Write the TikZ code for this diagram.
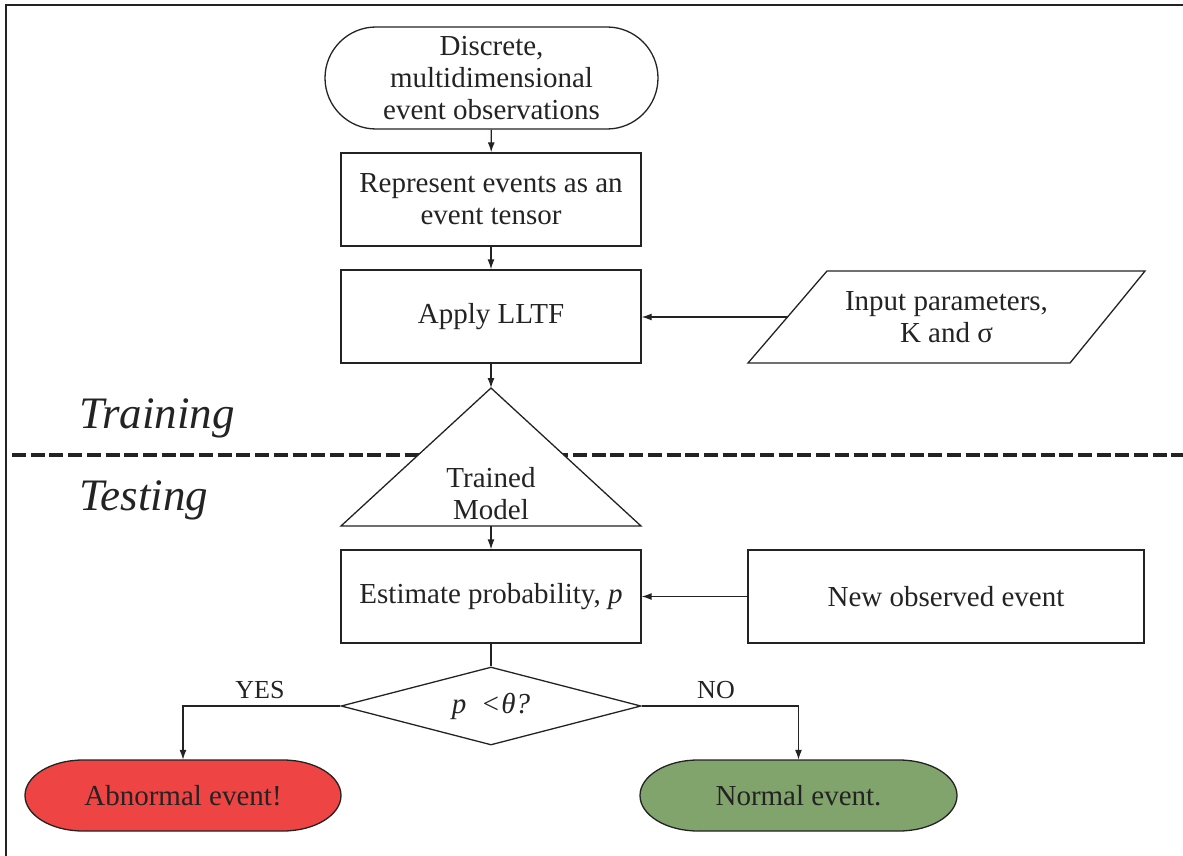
\documentclass[tikz,border=0pt]{standalone}
\usepackage{fontspec}
\setmainfont{Liberation Serif}
\usetikzlibrary{shapes.geometric, shapes.misc, arrows.meta, positioning, calc}
\definecolor{inkgray}{RGB}{35,35,35}
\definecolor{abnred}{RGB}{239,68,68}
\definecolor{normgreen}{RGB}{129,163,108}

\begin{document}
\begin{tikzpicture}[x=1pt, y=-1pt,
  every node/.style={text=inkgray, font=\fontsize{29}{32}\selectfont},
  box/.style={draw=inkgray, line width=1.3pt, minimum width=300pt, minimum height=93pt, align=center, inner sep=0pt},
  term/.style={draw=inkgray, line width=1.3pt, rounded rectangle, minimum width=333pt, minimum height=102pt, align=center, inner sep=0pt},
  link/.style={draw=inkgray, line width=1.3pt, -{Latex[length=10pt, width=7pt]}},
  phase/.style={font=\fontsize{45}{50}\selectfont\itshape, anchor=base}
]
\useasboundingbox (0,0) rectangle (1183,856);
% frame
\draw[line width=2pt, inkgray] (6,856) -- (6,5) -- (1183,5);

% Training part
\node[term] (obs) at (491.5,78) {Discrete,\\multidimensional\\event observations};
\node[box] (tensor) at (491,199.5) {Represent events as an\\event tensor};
\node[box] (lltf) at (491,316.5) {Apply LLTF};
\draw[inkgray, line width=1.3pt] (748,363) -- (827,271) -- (1145,271) -- (1070,363) -- cycle;
\coordinate (paramsin) at (787.5,317);
\node[align=center] (params) at (946.5,317) {Input parameters,\\K and σ};
\node[phase] (train) at (157,428) {Training};

% split line
\draw[inkgray, line width=4pt, dash pattern=on 14pt off 4.7pt] (12,455) -- (1183,455);

% model
\coordinate (apex) at (491,388);
\coordinate (base) at (491,526);
\draw[inkgray, line width=1.3pt, fill=white] (apex) -- (641,526) -- (341,526) -- cycle;
\node[align=center] (model) at (491,494) {Trained\\Model};
\node[phase] (test) at (144,510) {Testing};

% Testing part
\node[box] (est) at (491,596.5) {Estimate probability, \textit{p}};
\node[box, minimum width=396pt] (newev) at (946,596.5) {New observed event};
\node[draw=inkgray, line width=1.3pt, diamond, aspect=3.85, minimum width=300pt, minimum height=78pt, inner sep=0pt]
  (check) at (491,706) {\textit{p}\ \ \textit{<\kern1ptθ?}};

% outcomes
\draw[inkgray, line width=1.3pt, fill=abnred] (83,760) -- (283,760) .. controls (315,760) and (341,776) .. (341,795.5)
  .. controls (341,815) and (315,831) .. (283,831) -- (83,831) .. controls (51,831) and (25,815) .. (25,795.5)
  .. controls (25,776) and (51,760) .. cycle;
\node[minimum width=316pt, minimum height=71pt, inner sep=0pt] (abn) at (183,795.5) {Abnormal event!};
\draw[inkgray, line width=1.3pt, fill=normgreen] (698,760) -- (899,760) .. controls (931,760) and (957,776) .. (957,795.5)
  .. controls (957,815) and (931,831) .. (899,831) -- (698,831) .. controls (666,831) and (640,815) .. (640,795.5)
  .. controls (640,776) and (666,760) .. cycle;
\node[minimum width=317pt, minimum height=71pt, inner sep=0pt] (norm) at (798.5,795.5) {Normal event.};

\node[font=\fontsize{26}{30}\selectfont] (yes) at (260,690) {YES};
\node[font=\fontsize{26}{30}\selectfont] (no) at (716,690) {NO};

% connectors
\draw[link] (obs) -- (tensor);
\draw[link] (tensor) -- (lltf);
\draw[link] (lltf) -- (apex);
\draw[link] (paramsin) -- (lltf.east |- paramsin);
\draw[link] (base) -- (est);
\draw[link] (newev) -- (est);
\draw[inkgray, line width=1.3pt] (est) -- (check);
\draw[link] (check.west) -| (abn.north);
\draw[link] (check.east) -| (norm.north);
\end{tikzpicture}
\end{document}
